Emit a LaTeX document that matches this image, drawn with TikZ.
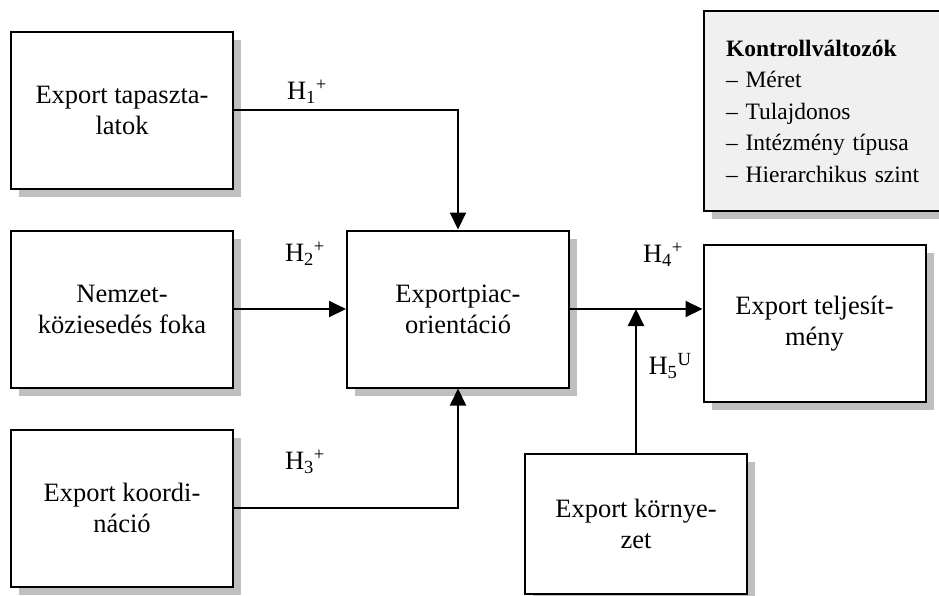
\documentclass[tikz,border=0pt]{standalone}
\usepackage{fontspec}
\setmainfont{Liberation Serif}
\usetikzlibrary{arrows.meta, positioning, shadows}

\begin{document}
\begin{tikzpicture}[
    x=1pt, y=-1pt,
    node distance=40pt and 112pt,
    box/.style={rectangle, draw, line width=2pt, fill=white, minimum width=222pt, minimum height=157pt, align=center, font=\fontsize{26.5}{31}\selectfont, drop shadow={shadow xshift=8pt, shadow yshift=-8pt, fill=black!25, opacity=1}},
    ctrlbox/.style={box, fill=black!6, minimum width=260pt, minimum height=200pt, inner xsep=22pt, text width=216pt, align=left, font=\fontsize{23.5}{31.5}\selectfont},
    hyp/.style={font=\fontsize{26.5}{30}\selectfont, inner sep=0pt},
    arrow/.style={-{Triangle[length=17pt, width=16pt]}, line width=2pt}
]
\clip (0,0) rectangle (939,595);

\node[box] (tap) at (122,110) {Export tapaszta-\\latok};
\node[box, below=of tap] (nemz) {Nemzet-\\köziesedés foka};
\node[box, below=of nemz] (koord) {Export koordi-\\náció};
\node[box, right=of nemz] (epo) {Exportpiac-\\orientáció};
\node[box] (telj) at (814.5,323.5) {Export teljesít-\\mény};
\node[box, minimum height=140pt] (korny) at (636,524) {Export környe-\\zet};
\node[ctrlbox, anchor=north west] (ctrl) at (703,10) {\textbf{Kontrollváltozók}\\\textendash\ Méret\\\textendash\ Tulajdonos\\\textendash\ Intézmény típusa\\\textendash\ Hierarchikus szint};

\coordinate (mod) at (korny.north |- epo.east);

\draw[arrow] (tap.east) -| (epo.north);
\draw[arrow] (nemz) -- (epo);
\draw[arrow] (koord.east) -| (epo.south);
\draw[arrow] (epo.east) -- (epo.east -| telj.west);
\draw[arrow] (korny) -- (mod);

\node[hyp] (h1) at (307,92) {H\textsubscript{1}\textsuperscript{+}};
\node[hyp] (h2) at (305,254) {H\textsubscript{2}\textsuperscript{+}};
\node[hyp] (h3) at (305,462) {H\textsubscript{3}\textsuperscript{+}};
\node[hyp] (h4) at (663,255) {H\textsubscript{4}\textsuperscript{+}};
\node[hyp] (h5) at (670,366) {H\textsubscript{5}\textsuperscript{U}};
\end{tikzpicture}
\end{document}
